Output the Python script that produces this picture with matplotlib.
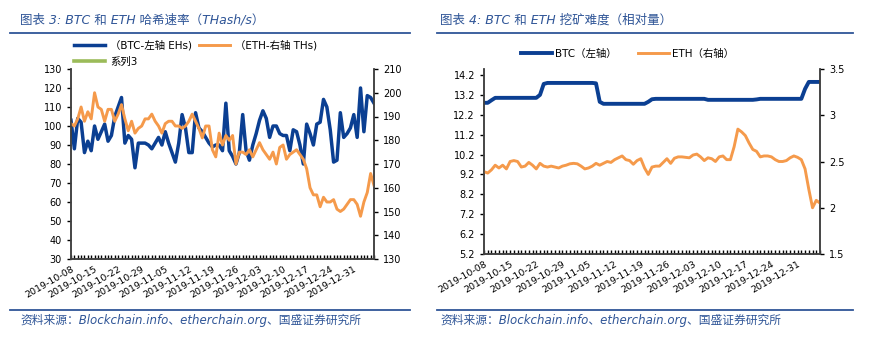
import matplotlib
matplotlib.use("Agg")
import matplotlib.pyplot as plt
from matplotlib.lines import Line2D
import pandas as pd

plt.rcParams["font.family"] = ["DejaVu Sans", "Noto Sans CJK SC"]

W, H = 874, 339

dates = pd.date_range("2019-10-08", periods=91).strftime("%Y-%m-%d").tolist()

# BTC hash rate, left axis (EHs)
btc_hash = [
    103, 88, 104, 102, 86, 92, 87, 100, 93, 97,
    101, 92, 95, 105, 110, 115, 91, 95, 93, 78,
    91, 91, 91, 90, 88, 91, 94, 90, 97, 91,
    86, 81, 91, 106, 99, 86, 86, 107, 99, 97,
    94, 91, 89, 90, 90, 87, 112, 87, 84, 80,
    86, 106, 87, 82, 90, 96, 103, 108, 104, 94,
    100, 100, 96, 95, 95, 87, 98, 97, 90, 80,
    101, 96, 90, 101, 102, 114, 110, 98, 81, 82,
    107, 94, 96, 99, 106, 94, 120, 97, 116, 115, 112,
]
# ETH hash rate, right axis (THs)
eth_hash = [
    187, 186, 189, 194, 188, 192, 189, 200, 194, 193,
    188, 193, 193, 188, 191, 195, 189, 184, 188, 183,
    185, 186, 189, 189, 191, 188, 186, 183, 187, 188,
    188, 186, 186, 185, 186, 188, 191, 188, 185, 181,
    186, 186, 176, 173, 183, 178, 182, 180, 182, 170,
    175, 175, 174, 176, 173, 176, 179, 176, 174, 172,
    175, 170, 177, 178, 172, 174, 175, 176, 174, 172,
    168, 160, 157, 157, 152, 156, 154, 154, 155, 151,
    150, 151, 153, 155, 155, 153, 148, 154, 158, 166, 161,
]
# BTC difficulty, left axis
btc_diff = (
    [12.8, 12.8, 12.93] + [13.05] * 12 + [13.2, 13.75]
    + [13.8] * 13 + [13.78, 12.85] + [12.75] * 12
    + [12.85, 12.98] + [13.0] * 14 + [12.95] * 13
    + [12.97] + [13.0] * 12 + [13.5] + [13.85] * 4
)
# ETH difficulty, right axis
eth_diff = [
    2.39, 2.375, 2.41, 2.46, 2.43, 2.46, 2.42, 2.50, 2.51, 2.50,
    2.44, 2.45, 2.49, 2.46, 2.42, 2.48, 2.45, 2.44, 2.45, 2.44,
    2.43, 2.45, 2.46, 2.475, 2.48, 2.475, 2.45, 2.42, 2.43, 2.45,
    2.48, 2.46, 2.48, 2.50, 2.49, 2.52, 2.54, 2.56, 2.52, 2.51,
    2.47, 2.51, 2.53, 2.43, 2.36, 2.44, 2.45, 2.45, 2.49, 2.53,
    2.48, 2.535, 2.55, 2.55, 2.545, 2.54, 2.57, 2.58, 2.55, 2.51,
    2.54, 2.53, 2.50, 2.55, 2.56, 2.52, 2.52, 2.66, 2.85, 2.82,
    2.78, 2.70, 2.63, 2.61, 2.55, 2.56, 2.56, 2.55, 2.52, 2.50,
    2.50, 2.51, 2.54, 2.56, 2.545, 2.52, 2.42, 2.20, 2.00, 2.08, 2.05,
]

BLUE = "#0B3F92"
ORANGE = "#F59A4B"
GREEN = "#9BBB59"
HEAD = "#2F5597"
AXC = "#404040"

x = list(range(len(dates)))
xlabels = [d if i % 7 == 0 else "" for i, d in enumerate(dates)]


def box(l, t, r, b):
    return [l / W, 1 - b / H, (r - l) / W, (b - t) / H]


def style_axes(ax, axr):
    for a in (ax, axr):
        a.spines["top"].set_visible(False)
        for s in ("left", "right", "bottom"):
            a.spines[s].set_color(AXC)
            a.spines[s].set_linewidth(1.1)
        a.tick_params(colors="black", labelsize=7, width=1, length=3)
    ax.set_xlim(0, len(dates) - 1)
    ax.set_xticks(x)
    ax.set_xticklabels(xlabels, rotation=30, ha="right", va="top",
                       rotation_mode="anchor", fontsize=6.8)
    ax.tick_params(axis="x", direction="in", length=3, pad=4)


fig = plt.figure(figsize=(W / 100, H / 100), dpi=100)

# ---- left panel: hash rates
ax1 = fig.add_axes(box(71, 69, 374, 259))
ax1r = ax1.twinx()
l_btc, = ax1.plot(x, btc_hash, color=BLUE, lw=2.5)
l_eth, = ax1r.plot(x, eth_hash, color=ORANGE, lw=2.1)
l_s3 = Line2D([], [], color=GREEN, lw=2.6)
ax1.set_ylim(30, 130)
ax1.set_yticks(range(30, 131, 10))
ax1r.set_ylim(130, 210)
ax1r.set_yticks(range(130, 211, 10))
style_axes(ax1, ax1r)
fig.legend([l_btc, l_s3, l_eth], ["（BTC-左轴 EHs)", "系列3", "（ETH-右轴 THs)"],
           ncol=2, loc="upper left", bbox_to_anchor=(74 / W, 1 - 40 / H),
           frameon=False, fontsize=7.5, handlelength=3, handletextpad=0.5,
           columnspacing=0.6, labelspacing=0.6, borderpad=0, borderaxespad=0)

# ---- right panel: difficulty
ax2 = fig.add_axes(box(484, 69, 820, 254))
ax2r = ax2.twinx()
d_btc, = ax2.plot(x, btc_diff, color=BLUE, lw=2.8)
d_eth, = ax2r.plot(x, eth_diff, color=ORANGE, lw=2.1)
ax2.set_ylim(5.2, 14.5)
ax2.set_yticks([5.2 + i for i in range(10)])
ax2.set_yticklabels([f"{5.2 + i:.1f}" for i in range(10)])
ax2r.set_ylim(1.5, 3.5)
ax2r.set_yticks([1.5, 2, 2.5, 3, 3.5])
ax2r.set_yticklabels(["1.5", "2", "2.5", "3", "3.5"])
style_axes(ax2, ax2r)
fig.legend([d_btc, d_eth], ["BTC（左轴）", "ETH（右轴）"],
           ncol=2, loc="upper left", bbox_to_anchor=(521 / W, 1 - 49 / H),
           frameon=False, fontsize=7.5, handlelength=3, handletextpad=0.3,
           columnspacing=2.0, borderpad=0, borderaxespad=0)

# ---- headers and footers
titles = [(20, "图表 3: BTC 和 ETH 哈希速率（THash/s）", 10, 410),
          (440, "图表 4: BTC 和 ETH 挖矿难度（相对量）", 437, 853)]
source = "资料来源：Blockchain.info、etherchain.org、国盛证券研究所"
for tx, title, lx0, lx1 in titles:
    fig.text(tx / W, 1 - 20 / H, title, color=HEAD, style="italic",
             fontsize=9, va="center", ha="left")
    fig.add_artist(Line2D([lx0 / W, lx1 / W], [1 - 33 / H] * 2, color=HEAD, lw=1.3))
    fig.add_artist(Line2D([lx0 / W, lx1 / W], [1 - 310 / H] * 2, color=HEAD, lw=1.3))
    fig.text(tx / W, 1 - 320 / H, source, color=HEAD, style="italic",
             fontsize=8.5, va="center", ha="left")

fig.savefig("out.png", dpi=100)
